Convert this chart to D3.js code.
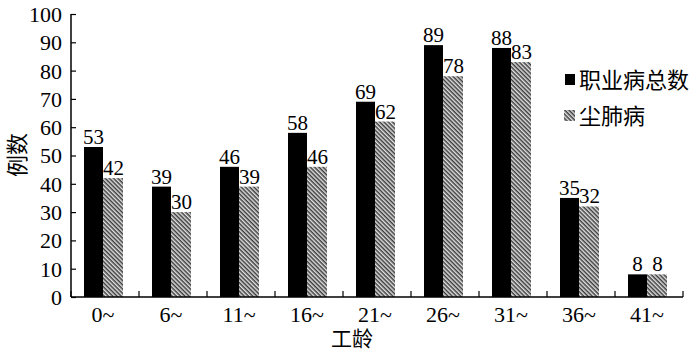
<!DOCTYPE html>
<html>
<head>
<meta charset="utf-8">
<script src="https://cdn.jsdelivr.net/npm/d3@7"></script>
<style>
  body { margin: 0; background: #fff; }
  text { font-family: "Liberation Serif", "Times New Roman", serif; fill: #000; }
  .cjk { font-family: "Noto Sans CJK SC", sans-serif; }
</style>
</head>
<body>
<script>
var categories = ["0~", "6~", "11~", "16~", "21~", "26~", "31~", "36~", "41~"];
var totalCases = [53, 39, 46, 58, 69, 89, 88, 35, 8];
var pneumo = [42, 30, 39, 46, 62, 78, 83, 32, 8];
var seriesNames = ["职业病总数", "尘肺病"];
var yTicks = [0, 10, 20, 30, 40, 50, 60, 70, 80, 90, 100];

var width = 700, height = 355;
var plotLeft = 71, plotRight = 683, plotTop = 14, plotBottom = 297;

var svg = d3.select("body").append("svg")
    .attr("width", width)
    .attr("height", height);

// fine diagonal hatch, stripes running down to the right
var defs = svg.append("defs");
var pat = defs.append("pattern")
    .attr("id", "hatch")
    .attr("patternUnits", "userSpaceOnUse")
    .attr("width", 3)
    .attr("height", 3)
    .attr("patternTransform", "rotate(45)");
pat.append("rect").attr("width", 3).attr("height", 3).attr("fill", "#e0e0e0");
pat.append("rect").attr("width", 3).attr("height", 1.5).attr("fill", "#3c3c3c");

var x = d3.scaleBand().domain(categories).range([plotLeft, plotRight]);
var y = d3.scaleLinear().domain([0, 100]).range([plotBottom, plotTop]);
var barW = 19, offset = 13;

// bars
var groups = svg.selectAll(".grp")
    .data(categories)
  .enter().append("g")
    .attr("class", "grp");

groups.append("rect")
    .attr("x", function(d) { return x(d) + offset; })
    .attr("y", function(d, i) { return y(totalCases[i]); })
    .attr("width", barW)
    .attr("height", function(d, i) { return y(0) - y(totalCases[i]); })
    .attr("fill", "#000");

groups.append("rect")
    .attr("x", function(d) { return x(d) + offset + barW; })
    .attr("y", function(d, i) { return y(pneumo[i]); })
    .attr("width", barW + 1)
    .attr("height", function(d, i) { return y(0) - y(pneumo[i]); })
    .attr("fill", "url(#hatch)");

groups.append("text")
    .attr("x", function(d) { return x(d) + offset + barW / 2; })
    .attr("y", function(d, i) { return y(totalCases[i]) - 3; })
    .attr("text-anchor", "middle")
    .style("font-size", "21px")
    .text(function(d, i) { return totalCases[i]; });

groups.append("text")
    .attr("x", function(d) { return x(d) + offset + barW * 1.5 + 1; })
    .attr("y", function(d, i) { return y(pneumo[i]) - 3; })
    .attr("text-anchor", "middle")
    .style("font-size", "21px")
    .text(function(d, i) { return pneumo[i]; });

// y axis
var yAxis = d3.axisRight(y).tickValues(yTicks).tickSize(5).tickFormat(d3.format("d"));
var ya = svg.append("g").attr("transform", "translate(" + plotLeft + ",0)").call(yAxis);
ya.select(".domain").attr("stroke", "#000").attr("stroke-width", 1.5).attr("d", "M0," + plotTop + "V" + plotBottom);
ya.selectAll(".tick line").attr("stroke", "#000").attr("stroke-width", 1.2);
ya.selectAll(".tick text")
    .attr("x", -9)
    .attr("text-anchor", "end")
    .attr("dy", "0.34em")
    .style("font-size", "22px")
    .style("font-family", "Liberation Serif, serif");

// x axis
var xa = svg.append("g").attr("transform", "translate(0," + plotBottom + ")");
xa.append("line")
    .attr("x1", plotLeft).attr("x2", plotRight)
    .attr("stroke", "#000").attr("stroke-width", 1.5);
var boundaries = categories.map(function(d) { return x(d); }).concat([plotRight]);
xa.selectAll(".xt")
    .data(boundaries)
  .enter().append("line")
    .attr("x1", function(d) { return d; })
    .attr("x2", function(d) { return d; })
    .attr("y1", 0).attr("y2", -6)
    .attr("stroke", "#000").attr("stroke-width", 1.2);
xa.selectAll(".xl")
    .data(categories)
  .enter().append("text")
    .attr("x", function(d) { return x(d) + x.bandwidth() / 2 - 2; })
    .attr("y", 25)
    .attr("text-anchor", "middle")
    .style("font-size", "22px")
    .text(function(d) { return d; });

// axis titles
svg.append("text")
    .attr("class", "cjk")
    .attr("x", 352).attr("y", 346)
    .attr("text-anchor", "middle")
    .style("font-size", "21px")
    .text("工龄");

svg.append("text")
    .attr("class", "cjk")
    .attr("transform", "translate(25,155) rotate(-90)")
    .attr("text-anchor", "middle")
    .style("font-size", "22px")
    .text("例数");

// legend
var legend = svg.append("g").attr("transform", "translate(564,66)");
legend.append("rect").attr("x", 1).attr("y", 8).attr("width", 10).attr("height", 11).attr("fill", "#000");
legend.append("rect").attr("x", 0).attr("y", 44).attr("width", 11).attr("height", 11).attr("fill", "url(#hatch)");
legend.selectAll(".lt")
    .data(seriesNames)
  .enter().append("text")
    .attr("class", "cjk")
    .attr("x", 15)
    .attr("y", function(d, i) { return 22 + i * 36; })
    .style("font-size", "22px")
    .text(function(d) { return d; });
</script>
</body>
</html>
